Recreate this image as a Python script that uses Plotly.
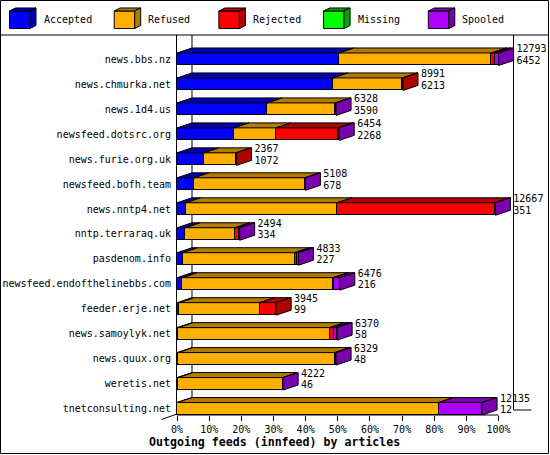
# Outgoing feeds (innfeed) by articles - innreport style 3D stacked bars
import plotly.graph_objects as go

# Feeds, top to bottom
feeds = ["news.bbs.nz", "news.chmurka.net", "news.1d4.us", "newsfeed.dotsrc.org",
         "news.furie.org.uk", "newsfeed.bofh.team", "news.nntp4.net", "nntp.terraraq.uk",
         "pasdenom.info", "newsfeed.endofthelinebbs.com", "feeder.erje.net",
         "news.samoylyk.net", "news.quux.org", "weretis.net", "tnetconsulting.net"]

# Articles offered (first label) and accepted (second label)
offered = [12793, 8991, 6328, 6454, 2367, 5108, 12667, 2494, 4833, 6476, 3945, 6370, 6329, 4222, 12135]
accepted = [6452, 6213, 3590, 2268, 1072, 678, 351, 334, 227, 216, 99, 58, 48, 46, 12]
# The other segments
refused = [6048, 2750, 2707, 1672, 1271, 4415, 6014, 1960, 4452, 5989, 3186, 6014, 6222, 4170, 10395]
rejected = [165, 28, 0, 2464, 24, 0, 6300, 160, 80, 40, 660, 158, 0, 0, 0]
missing = [0, 0, 0, 0, 0, 0, 0, 0, 0, 0, 0, 0, 0, 0, 0]
spooled = [128, 0, 31, 50, 0, 15, 2, 40, 74, 231, 0, 140, 59, 6, 1728]

x_ticks = [0, 10, 20, 30, 40, 50, 60, 70, 80, 90, 100]
x_tick_text = ["0%", "10%", "20%", "30%", "40%", "50%", "60%", "70%", "80%", "90%", "100%"]

series = [
    ("Accepted", accepted, "#0000FF", "#0000B0"),
    ("Refused", refused, "#FFAF00", "#B37A00"),
    ("Rejected", rejected, "#FF0000", "#B00000"),
    ("Missing", missing, "#00FF00", "#00A800"),
    ("Spooled", spooled, "#AF00FF", "#7A00B0"),
]

# page geometry (pixels)
W, H = 550, 455
ML, MR, MT, MB = 177, 3, 35, 40
PW, PH = W - ML - MR, H - MT - MB
PX_PER_PCT = 3.216
DX = 4.66      # 3D depth, x (percent)
DY = 0.2       # 3D depth, y (rows)
HALF = 0.25    # half bar height (rows)
MONO = "DejaVu Sans Mono"


def pxx(p):
    return (p - ML) / PW


def pxy(p):
    return (H - MB - p) / PH


scale = 100.0 / max(offered)
rows = list(range(len(feeds)))

fig = go.Figure()

# front faces
for name, vals, col, dark in series:
    fig.add_trace(go.Bar(
        y=rows, x=[v * scale for v in vals], orientation="h", width=2 * HALF,
        marker=dict(color=col, line=dict(color="black", width=1)),
        name=name, showlegend=False, hoverinfo="skip"))

# top faces, per series colour
ends = [0.0] * len(feeds)
last_dark = [None] * len(feeds)
for name, vals, col, dark in series:
    xs, ys = [], []
    for i in rows:
        a = ends[i]
        b = a + vals[i] * scale
        if vals[i] > 0:
            t = i - HALF
            xs += [a, b, b + DX, a + DX, a, None]
            ys += [t, t, t - DY, t - DY, t, None]
            last_dark[i] = dark
        ends[i] = b
    if xs:
        fig.add_trace(go.Scatter(
            x=xs, y=ys, mode="lines", fill="toself", fillcolor=dark,
            line=dict(color="black", width=1), showlegend=False, hoverinfo="skip"))

# side faces, coloured by the last segment of each bar
for i in rows:
    e = ends[i]
    t, btm = i - HALF, i + HALF
    fig.add_trace(go.Scatter(
        x=[e, e + DX, e + DX, e, e], y=[t, t - DY, btm - DY, btm, t],
        mode="lines", fill="toself", fillcolor=last_dark[i],
        line=dict(color="black", width=1), showlegend=False, hoverinfo="skip"))

# value labels right of each bar
lab_x = [e + DX + 0.9 for e in ends]
fig.add_trace(go.Scatter(
    x=lab_x, y=[i - 0.37 for i in rows], mode="text",
    text=[str(v) for v in offered], textposition="middle right",
    textfont=dict(family=MONO, size=10, color="black"),
    showlegend=False, hoverinfo="skip", cliponaxis=False))
fig.add_trace(go.Scatter(
    x=lab_x, y=[i + 0.08 for i in rows], mode="text",
    text=[str(v) for v in accepted], textposition="middle right",
    textfont=dict(family=MONO, size=10, color="black"),
    showlegend=False, hoverinfo="skip", cliponaxis=False))

shapes = []
line = dict(color="black", width=1)
# outer border and legend separator
shapes.append(dict(type="rect", xref="paper", yref="paper", x0=pxx(0.5), x1=pxx(548.5),
                   y0=pxy(0.5), y1=pxy(453.5), line=line, layer="below"))
shapes.append(dict(type="line", xref="paper", yref="paper", x0=pxx(0), x1=pxx(549),
                   y0=pxy(35), y1=pxy(35), line=line, layer="below"))
# back wall line
shapes.append(dict(type="line", xref="x", yref="paper", x0=DX, x1=DX, y0=pxy(411), y1=1,
                   line=line, layer="below"))
# bottom axis line 0..100% and floor edge
shapes.append(dict(type="line", xref="x", yref="paper", x0=0, x1=100, y0=0, y1=0,
                   line=line, layer="below"))
shapes.append(dict(type="line", xref="paper", yref="paper", x0=pxx(161.5), x1=pxx(177),
                   y0=pxy(419.5), y1=pxy(414), line=line, layer="below"))
# right frame
shapes.append(dict(type="line", xref="paper", yref="paper", x0=pxx(513.5), x1=pxx(513.5),
                   y0=pxy(410), y1=pxy(35), line=line, layer="below"))
shapes.append(dict(type="line", xref="paper", yref="paper", x0=pxx(513.5), x1=pxx(531.5),
                   y0=pxy(410), y1=pxy(410), line=line, layer="below"))

# legend with little cubes
annotations = []
for k, (name, vals, col, dark) in enumerate(series):
    x0 = 9.5 + 104.7 * k
    fx0, fx1, fy0, fy1 = x0, x0 + 20.5, 11, 28.5
    dxp, dyp = 6, 3

    def P(pts):
        return "M " + " L ".join("%.4f,%.4f" % (pxx(a), pxy(b)) for a, b in pts) + " Z"

    shapes.append(dict(type="path", xref="paper", yref="paper", fillcolor=col, line=line,
                       path=P([(fx0, fy0), (fx1, fy0), (fx1, fy1), (fx0, fy1)])))
    shapes.append(dict(type="path", xref="paper", yref="paper", fillcolor=dark, line=line,
                       path=P([(fx0, fy0), (fx0 + dxp, fy0 - dyp), (fx1 + dxp, fy0 - dyp), (fx1, fy0)])))
    shapes.append(dict(type="path", xref="paper", yref="paper", fillcolor=dark, line=line,
                       path=P([(fx1, fy0), (fx1 + dxp, fy0 - dyp), (fx1 + dxp, fy1 - dyp), (fx1, fy1)])))
    annotations.append(dict(xref="paper", yref="paper", x=pxx(x0 + 32), y=pxy(20),
                            text=name, showarrow=False, xanchor="left", yanchor="middle",
                            font=dict(family=MONO, size=10, color="black")))

# axis title
annotations.append(dict(xref="paper", yref="paper", x=pxx(274), y=pxy(441.5),
                        text="<b>Outgoing feeds (innfeed) by articles</b>", showarrow=False,
                        xanchor="center", yanchor="middle",
                        font=dict(family=MONO, size=11.6, color="black")))

fig.update_layout(
    width=W, height=H,
    margin=dict(l=ML, r=MR, t=MT, b=MB, pad=0),
    paper_bgcolor="white", plot_bgcolor="white",
    barmode="stack", bargap=0,
    shapes=shapes, annotations=annotations,
    showlegend=False,
    xaxis=dict(range=[0, PW / PX_PER_PCT], tickvals=x_ticks, ticktext=x_tick_text,
               ticks="outside", ticklen=5, tickcolor="black", showgrid=False,
               zeroline=False, showline=False,
               tickfont=dict(family=MONO, size=10, color="black")),
    yaxis=dict(range=[14.25, -0.97], tickvals=rows, ticktext=feeds, ticks="",
               showgrid=False, zeroline=False, showline=True, linecolor="black",
               linewidth=1, ticklabelstandoff=3,
               tickfont=dict(family=MONO, size=10, color="black")),
)

# drop the browser's default page margin so the 550x455 figure fills the window
fig.write_html("out.html", config={"displayModeBar": False},
               post_script="document.body.style.margin='0';")
